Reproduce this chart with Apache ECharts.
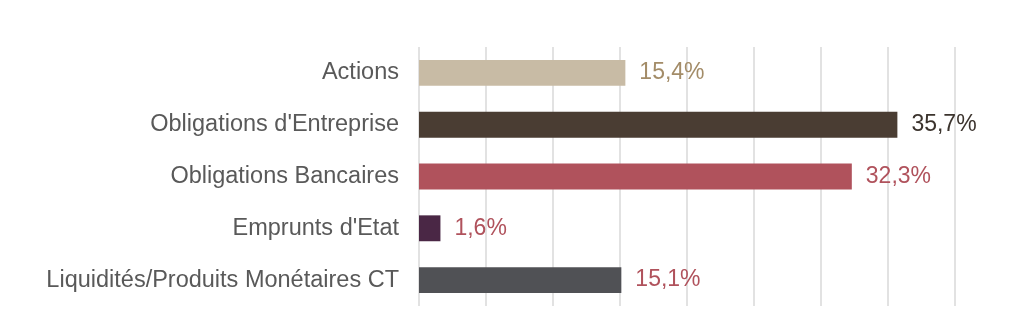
<!DOCTYPE html>
<html><head><meta charset="utf-8">
<script src="https://cdn.jsdelivr.net/npm/echarts@6/dist/echarts.min.js"></script>
<style>html,body{margin:0;padding:0;background:#fff}#c{width:1024px;height:328px}</style>
</head><body><div id="c"></div>
<script>
const categories = ["Actions","Obligations d'Entreprise","Obligations Bancaires","Emprunts d'Etat","Liquidités/Produits Monétaires CT"];
const values = [15.4, 35.7, 32.3, 1.6, 15.1];
const barColors = ["#C8BBA5","#4A3D33","#B0525C","#4A2745","#505155"];
const labelColors = ["#A38C68","#3B332D","#B0525C","#B0525C","#B0525C"];
const xTicks = [0,5,10,15,20,25,30,35,40];

const chart = echarts.init(document.getElementById('c'), null, {renderer:'canvas'});
chart.setOption({
  animation:false,
  grid:{left:419, right:69, top:47, bottom:22, containLabel:false},
  xAxis:{type:'value', min:xTicks[0], max:xTicks[xTicks.length-1], interval:5,
    axisLabel:{show:false}, axisLine:{show:false}, axisTick:{show:false},
    splitLine:{show:true, lineStyle:{color:'#D9D9D9', width:1.5}}},
  yAxis:{type:'category', inverse:true, data:categories,
    axisLine:{show:false}, axisTick:{show:false},
    axisLabel:{color:'#595959', fontSize:23.5, fontFamily:'Liberation Sans, Arial, sans-serif', margin:20}},
  series:[{type:'bar', barWidth:'50%',
    data: values.map((v,i)=>({value:v,
      itemStyle:{color:barColors[i]},
      label:{color:labelColors[i]}})),
    label:{show:true, position:'right', distance:14, fontSize:23,
      fontFamily:'Liberation Sans, Arial, sans-serif',
      formatter:p=>p.value.toFixed(1).replace('.',',')+'%'}
  }]
});
</script></body></html>
